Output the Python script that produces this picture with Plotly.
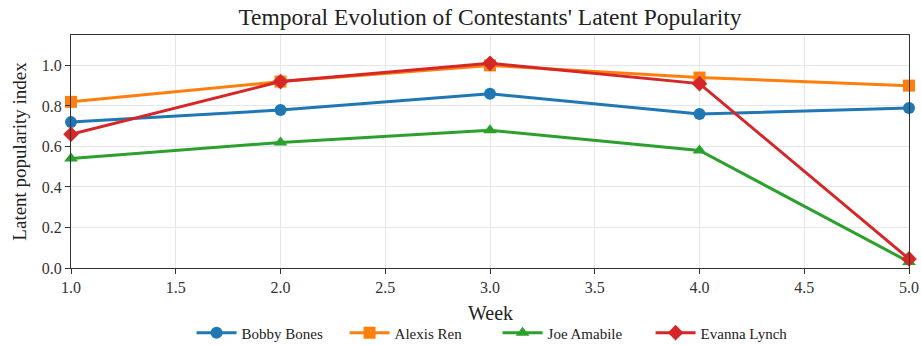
import plotly.graph_objects as go

weeks = [1, 2, 3, 4, 5]
bobby_bones = [0.72, 0.78, 0.86, 0.76, 0.79]
alexis_ren = [0.82, 0.92, 1.00, 0.94, 0.90]
joe_amabile = [0.54, 0.62, 0.68, 0.58, 0.03]
evanna_lynch = [0.66, 0.92, 1.01, 0.91, 0.045]

series = [
    ("Bobby Bones", bobby_bones, "#1f77b4", "circle"),
    ("Alexis Ren", alexis_ren, "#ff7f0e", "square"),
    ("Joe Amabile", joe_amabile, "#2ca02c", "triangle-up"),
    ("Evanna Lynch", evanna_lynch, "#d62728", "diamond"),
]

FONT = "Liberation Serif"

fig = go.Figure()
for name, vals, color, symbol in series:
    fig.add_trace(go.Scatter(
        x=weeks, y=vals, name=name, mode="lines+markers",
        line=dict(color=color, width=3),
        marker=dict(symbol=symbol, size=12, color=color),
        cliponaxis=False,
    ))

axis_common = dict(
    showline=True, linecolor="#333333", linewidth=1.2, mirror=True,
    ticks="outside", ticklen=5, tickcolor="#333333",
    gridcolor="#e6e6ec", gridwidth=1, zeroline=False, automargin=False,
    tickfont=dict(family=FONT, size=16, color="#333333"),
)

fig.update_layout(
    width=921, height=345,
    margin=dict(l=71, r=12, t=35, b=77, autoexpand=False),
    paper_bgcolor="white", plot_bgcolor="white",
    title=dict(text="Temporal Evolution of Contestants' Latent Popularity",
               x=0.5, xref="paper", xanchor="center", y=0.95, yanchor="middle",
               font=dict(family=FONT, size=23.5, color="#222222")),
    xaxis=dict(range=[1, 5], dtick=0.5, tickformat=".1f", **axis_common),
    yaxis=dict(range=[0, 1.15], dtick=0.2, tickformat=".1f",
               title=dict(text="Latent popularity index", font=dict(family=FONT, size=19, color="#222222"), standoff=10),
               **axis_common),
    legend=dict(orientation="h", x=0.208, xanchor="left", y=0.035, yanchor="middle",
                yref="container", xref="container",
                font=dict(family=FONT, size=15, color="#222222"),
                itemwidth=40, traceorder="normal",
                entrywidth=98, entrywidthmode="pixels"),
    showlegend=True,
    annotations=[dict(text="Week", xref="paper", yref="paper", x=0.5, y=-0.193,
                      xanchor="center", yanchor="middle", showarrow=False,
                      font=dict(family=FONT, size=20, color="#222222"))],
)

fig.write_html("out.html")
